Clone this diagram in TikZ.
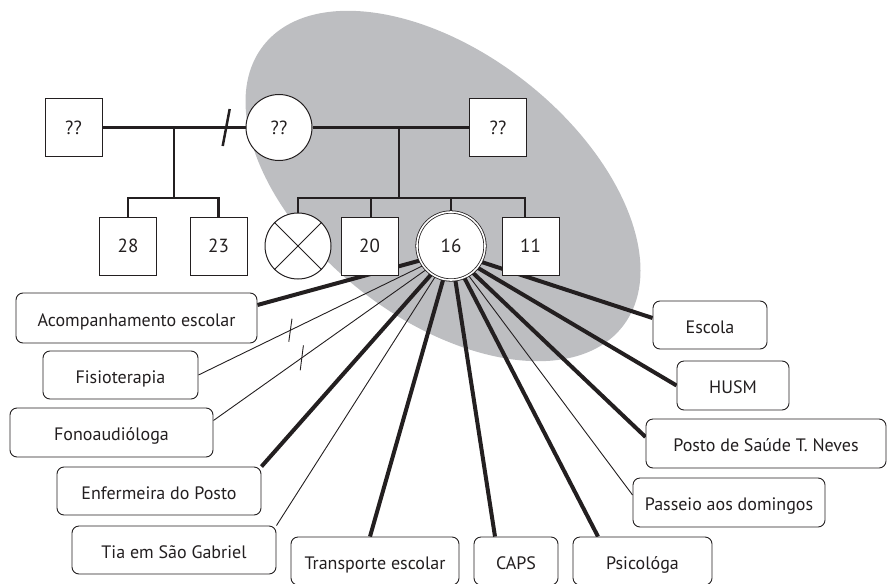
\documentclass[tikz,border=0pt]{standalone}
\usepackage{fontspec}
\setmainfont{PT Sans}
\usetikzlibrary{calc}
\definecolor{ink}{RGB}{35,31,32}
\definecolor{ellgray}{RGB}{189,190,193}
\pgfdeclarelayer{ell}
\pgfdeclarelayer{bg}
\pgfsetlayers{ell,bg,main}
\begin{document}
\begin{tikzpicture}[x=1pt,y=-1pt,
  gen/.style={draw=ink, line width=1pt, fill=white, text=ink, font=\fontsize{19}{22}\selectfont, inner sep=0pt},
  sq/.style={gen, rectangle, minimum width=57pt, minimum height=58pt},
  ci/.style={gen, circle, minimum size=66pt},
  lbl/.style={draw=ink, line width=0.9pt, fill=white, rounded corners=7pt, text=ink,
    font=\fontsize{18}{21}\selectfont, inner sep=0pt, minimum height=48pt, text height=16pt, text depth=0pt},
  gline/.style={draw=ink, line width=2.5pt},
  strong/.style={draw=ink, line width=4pt},
  weak/.style={draw=ink, line width=0.9pt},
]
\useasboundingbox (0,0) rectangle (890,583);
\clip (0,0) rectangle (890,583);
\begin{pgfonlayer}{ell}
\fill[ellgray, rotate around={-38:(443,186)}] (443,186) ellipse [x radius=228, y radius=133];
\end{pgfonlayer}

% genogram
\node[sq] (pL) at (73.5,127.5) {??};
\node[ci] (pM) at (279,127.5) {??};
\node[sq] (pR) at (498,127.5) {??};
\node[sq] (c28) at (128,246) {28};
\node[sq] (c23) at (218.5,246) {23};
\node[gen, circle, minimum size=66pt] (cX) at (298,246) {};
\draw[ink, line width=1pt] (cX.north west) -- (cX.south east) (cX.north east) -- (cX.south west);
\node[sq] (c20) at (369.5,246) {20};
\node[gen, circle, minimum size=68pt, double=white, double distance=1.6pt, line width=0.8pt] (c16) at (451,246) {16};
\node[sq] (c11) at (530.5,246) {11};

\begin{pgfonlayer}{bg}
\draw[gline] (pL) -- coordinate[pos=0.865] (brk) (pM);
\draw[gline] ($(brk)+(3.5,-18.5)$) -- ($(brk)+(-3.5,18.5)$);
\draw[gline] (pM) -- (pR);
\coordinate (d1) at ($(pL.east)!0.5!(pM.west)$);
\draw[gline] (d1) -- (d1 |- 0,198);
\draw[gline] (c28.north) -- (c28.north |- 0,198) -| (c23.north);
\coordinate (d2) at (399,127.5);
\draw[gline] (d2) -- (d2 |- 0,198);
\draw[gline] (cX.north) -- (cX.north |- 0,198) -| ($(c11.north)+(-5.5,0)$);
\draw[gline] ($(c20.north)+(1.5,0)$) -- ++(0,-19);
\draw[gline] (c16.north) -- (c16.north |- 0,198);
\end{pgfonlayer}

% network boxes
\node[lbl, minimum width=241pt, minimum height=50pt] (acomp) at (136.5,318) {Acompanhamento escolar};
\node[lbl, minimum width=155pt] (fisio) at (120.5,375) {Fisioterapia};
\node[lbl, minimum width=203pt, minimum height=49pt] (fono) at (111.5,432.5) {Fonoaudióloga};
\node[lbl, minimum width=204pt] (enferm) at (159,491) {Enfermeira do Posto};
\node[lbl, minimum width=204pt] (tia) at (174,550) {Tia em São Gabriel};
\node[lbl, minimum width=168pt] (transp) at (375,561) {Transporte escolar};
\node[lbl, minimum width=84pt] (caps) at (516,561) {CAPS};
\node[lbl, minimum width=139pt] (psico) at (642.5,561) {Psicológa};
\node[lbl, minimum width=192pt, minimum height=49pt] (passeio) at (729,502.5) {Passeio aos domingos};
\node[lbl, minimum width=240pt, minimum height=49pt] (posto) at (766,443.5) {Posto de Saúde T. Neves};
\node[lbl, minimum width=112pt, minimum height=49pt] (husm) at (733,385.5) {HUSM};
\node[lbl, minimum width=114pt] (escola) at (710,325) {Escola};

\coordinate (hub) at ($(c16.center)+(0,6)$);
\begin{pgfonlayer}{bg}
\draw[strong] (hub) -- ($(acomp.east)+(0,-13)$);
\draw[weak] (hub) -- coordinate[pos=0.636] (s1) (fisio.east);
\draw[weak] ($(s1)+(1.6,-11.5)$) -- ($(s1)+(-1.6,11.5)$);
\draw[weak] (hub) -- coordinate[pos=0.628] (s2) ($(fono.east)+(0,-12)$);
\draw[weak] ($(s2)+(1.6,-12.5)$) -- ($(s2)+(-1.6,12.5)$);
\draw[strong] (hub) -- (enferm.north east);
\draw[weak] (hub) -- (tia.north east);
\draw[strong] (hub) -- ($(transp.north)+(-5,0)$);
\draw[strong] (hub) -- ($(caps.north)+(-21,0)$);
\draw[strong] (hub) -- ($(psico.north)+(-44.5,0)$);
\draw[weak] (hub) -- ($(passeio.west)+(0,-7.5)$);
\draw[strong] (hub) -- ($(posto.west)+(0,-6.5)$);
\draw[strong] (hub) -- (husm.west);
\draw[strong] (hub) -- ($(escola.west)+(0,-7)$);
\end{pgfonlayer}
\end{tikzpicture}
\end{document}
